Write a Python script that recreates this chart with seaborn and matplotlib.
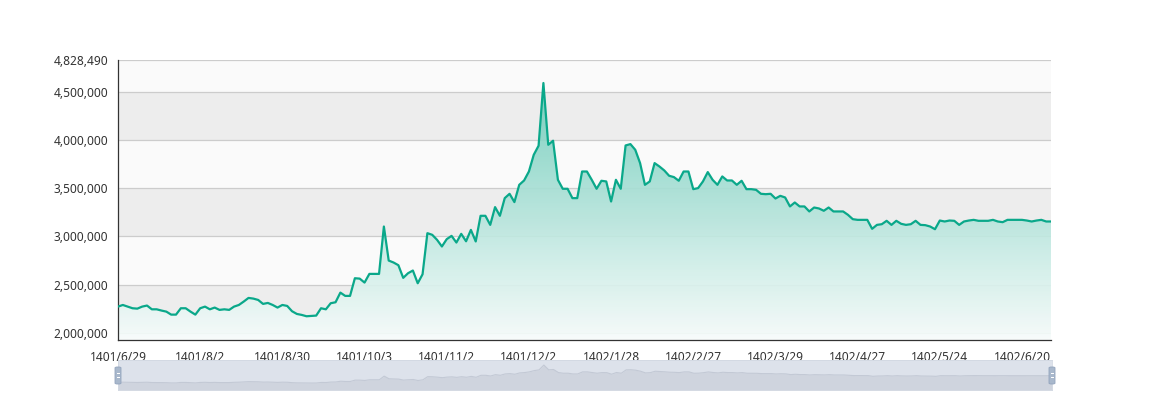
import numpy as np
import pandas as pd
import matplotlib
matplotlib.use("Agg")
import matplotlib.pyplot as plt
import seaborn as sns
from matplotlib.patches import Rectangle, FancyBboxPatch
from matplotlib.colors import to_rgb

# values (one per trading day)
values = [
    2273, 2290, 2273, 2256, 2252, 2273, 2284, 2245, 2245, 2232,
    2221, 2190, 2190, 2256, 2256, 2221, 2190, 2256, 2273, 2245,
    2263, 2239, 2245, 2239, 2273, 2290, 2325, 2363, 2356, 2342,
    2301, 2311, 2290, 2263, 2290, 2280, 2225, 2197, 2187, 2173,
    2176, 2180, 2256, 2245, 2308, 2318, 2418, 2384, 2384, 2567,
    2563, 2522, 2612, 2612, 2612, 3103, 2750, 2730, 2702, 2571,
    2619, 2647, 2515, 2608, 3034, 3017, 2965, 2896, 2972, 3006,
    2937, 3027, 2950, 3068, 2948, 3214, 3214, 3120, 3304, 3214,
    3397, 3442, 3356, 3535, 3580, 3673, 3846, 3940, 4590, 3950,
    3992, 3587, 3494, 3494, 3397, 3397, 3673, 3673, 3587, 3494,
    3577, 3570, 3362, 3587, 3494, 3943, 3957, 3898, 3760, 3535,
    3570, 3760, 3725, 3684, 3629, 3615, 3577, 3673, 3673, 3490,
    3501, 3570, 3667, 3587, 3535, 3622, 3580, 3580, 3535, 3577,
    3490, 3490, 3483, 3442, 3438, 3442, 3393, 3421, 3404, 3311,
    3352, 3311, 3311, 3259, 3300, 3290, 3266, 3300, 3259, 3259,
    3259, 3224, 3179, 3172, 3172, 3172, 3079, 3120, 3127, 3162,
    3120, 3162, 3131, 3120, 3127, 3162, 3120, 3117, 3103, 3075,
    3165, 3155, 3165, 3162, 3120, 3155, 3165, 3172, 3162, 3162,
    3162, 3172, 3155, 3148, 3172, 3172, 3172, 3172, 3165, 3155,
    3165, 3172, 3155, 3155,
]
values = [v * 1000 for v in values]

tick_labels = ["1401/6/29", "1401/8/2", "1401/8/30", "1401/10/3", "1401/11/2",
               "1401/12/2", "1402/1/28", "1402/2/27", "1402/3/29", "1402/4/27",
               "1402/5/24", "1402/6/20"]
tick_step = 17

y_ticks = [2000000, 2500000, 3000000, 3500000, 4000000, 4500000, 4828490]
y_min = 1927000
y_max = 4828490

line_color = "#0aa88a"

df = pd.DataFrame({"idx": np.arange(len(values)), "value": values})

sns.set_style("white")
plt.rcParams["font.family"] = ["Noto Sans", "DejaVu Sans"]

W, H = 1168, 400
fig = plt.figure(figsize=(W / 100, H / 100), dpi=100)


def fx(px):
    return px / W


def fy(py):
    return 1 - py / H


ax = fig.add_axes([fx(118), fy(340), fx(1051) - fx(118), fy(60) - fy(340)])
n = len(values)
ax.set_xlim(0, n - 1)
ax.set_ylim(y_min, y_max)

# alternating split areas
bounds = [y_min] + y_ticks
for k in range(len(bounds) - 1):
    c = "#ededed" if k % 2 == 1 else "#fafafa"
    ax.axhspan(bounds[k], bounds[k + 1], color=c, zorder=0, lw=0)
for t in y_ticks:
    ax.axhline(t, color="#cccccc", lw=0.9, zorder=0.5)

# gradient area under the line: teal fading to white, nearly opaque
rgb = np.array(to_rgb(line_color))
mix = np.linspace(0.6, 0.03, 256)[:, None]
cols = 1 - mix * (1 - rgb[None, :])
grad = np.ones((256, 1, 4))
grad[:, 0, :3] = cols
grad[:, 0, 3] = 0.9
top = max(values)
im = ax.imshow(grad, extent=[0, n - 1, y_min, top], aspect="auto",
               origin="upper", zorder=1, interpolation="bilinear")
poly = ax.fill_between(df["idx"], df["value"], y_min, color="none", lw=0)
im.set_clip_path(poly.get_paths()[0], ax.transData)

sns.lineplot(data=df, x="idx", y="value", ax=ax, color=line_color,
             linewidth=1.6, zorder=3)
ax.set_xlabel("")
ax.set_ylabel("")

ax.set_yticks(y_ticks)
ax.set_yticklabels([f"{t:,}" for t in y_ticks])
ax.set_xticks(np.arange(0, tick_step * len(tick_labels), tick_step))
ax.set_xticklabels(tick_labels)
ax.tick_params(axis="both", colors="#333333", labelsize=8.6, length=5,
               width=0.9, direction="out", pad=3)
ax.tick_params(axis="y", pad=2)
for s in ["top", "right"]:
    ax.spines[s].set_visible(False)
for s in ["left", "bottom"]:
    ax.spines[s].set_color("#333333")
    ax.spines[s].set_linewidth(0.9)

# data zoom slider
ax2 = fig.add_axes([fx(118), fy(390), fx(1052) - fx(118), fy(360) - fy(390)])
ax2.set_xlim(0, n - 1)
ax2.set_ylim(1240000, 5270000)
ax2.set_facecolor("#dde2eb")
ax2.fill_between(df["idx"], df["value"], 1240000, color="#cfd4de", lw=0)
sns.lineplot(data=df, x="idx", y="value", ax=ax2, color="#c3c9d5",
             linewidth=0.8)
ax2.set_xlabel("")
ax2.set_ylabel("")
ax2.set_xticks([])
ax2.set_yticks([])
for s in ax2.spines.values():
    s.set_color("#d2d8e2")
    s.set_linewidth(0.6)

for hx in (118, 1052):
    fig.patches.append(FancyBboxPatch(
        (fx(hx - 3), fy(384)), fx(6), fy(367) - fy(384),
        boxstyle="round,pad=0,rounding_size=0.002",
        transform=fig.transFigure, facecolor="#a9b8cc",
        edgecolor="#93a4bd", lw=0.6, zorder=5))
    for yy in (373, 377):
        fig.patches.append(Rectangle(
            (fx(hx - 1.5), fy(yy + 0.5)), fx(3), fy(yy - 0.5) - fy(yy + 0.5),
            transform=fig.transFigure, facecolor="#ffffff", lw=0, zorder=6))

fig.savefig("out.png", dpi=100)
